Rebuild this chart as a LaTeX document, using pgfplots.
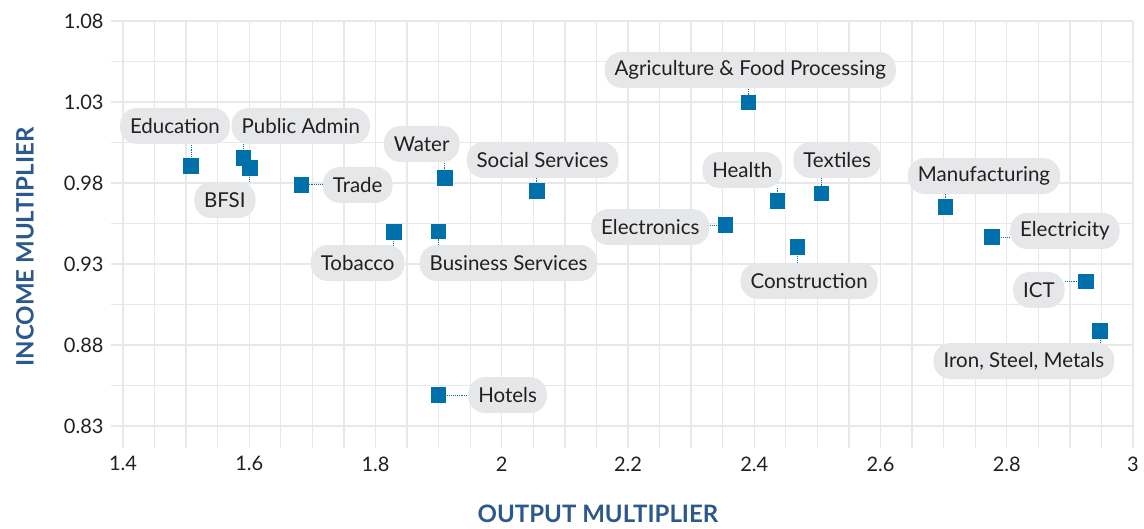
\documentclass[border=0pt]{standalone}
\usepackage{pgfplots}
\usepackage{pgfplotstable}
\pgfplotsset{compat=1.18}
\usepackage{fontspec}
\setmainfont{Lato}
\definecolor{ptblue}{RGB}{0,112,170}
\definecolor{lblue}{RGB}{44,88,140}
\definecolor{gridc}{RGB}{232,232,232}
\definecolor{boxc}{RGB}{230,231,232}
\definecolor{txt}{RGB}{35,31,32}

\pgfplotstableread{
x y
1.508 0.9905
1.591 0.9954
1.601 0.9893
1.683 0.9788
1.829 0.9498
1.8995 0.9500
1.910 0.9829
2.0556 0.9749
2.391 1.0298
2.3546 0.9539
2.437 0.9687
2.5065 0.9736
2.4685 0.9403
2.7027 0.9650
2.777 0.9465
2.9258 0.9193
2.948 0.8885
1.8995 0.8490
}\sectors

\begin{document}
\begin{tikzpicture}[x=1pt,y=1pt,
  lab/.style={fill=boxc, rounded corners=17pt, minimum height=36pt, inner xsep=10pt, text=txt, font=\fontsize{20.5}{24}\selectfont},
  conn/.style={draw=ptblue, densely dotted, line width=0.9pt}]
\path[use as bounding box] (0,0) rectangle (1144,528);
\begin{axis}[
  at={(111pt,80pt)}, anchor=south west,
  scale only axis, width=1022pt, height=427pt,
  xmin=1.381, xmax=3, ymin=0.8164, ymax=1.08,
  xtick={1.4,1.6,1.8,2,2.2,2.4,2.6,2.8,3},
  minor xtick={1.45,1.5,1.55,1.65,1.7,1.75,1.85,1.9,1.95,2.05,2.1,2.15,2.25,2.3,2.35,2.45,2.5,2.55,2.65,2.7,2.75,2.85,2.9,2.95},
  ytick={0.83,0.88,0.93,0.98,1.03,1.08},
  minor ytick={0.855,0.905,0.955,1.005,1.055},
  grid=both,
  major grid style={draw=gridc, line width=1.3pt},
  minor grid style={draw=gridc, line width=1.3pt},
  axis line style={draw=none}, tick style={draw=none},
  /pgf/number format/.cd, fixed, precision=2, assume math mode=true,
  /pgfplots/.cd,
  xticklabel style={font=\fontsize{20}{24}\selectfont, text=txt, yshift=-5pt},
  yticklabel style={font=\fontsize{20}{24}\selectfont, text=txt, xshift=-4pt},
  xlabel={OUTPUT MULTIPLIER},
  ylabel={INCOME MULTIPLIER},
  xlabel style={at={(axis description cs:0.4765,-0.1546)}, anchor=center, font=\fontsize{24}{28}\selectfont\bfseries, text=lblue},
  ylabel style={at={(axis description cs:-0.0841,0.4707)}, anchor=center, font=\fontsize{24}{28}\selectfont\bfseries, text=lblue},
  clip=false,
]
% point coordinates
\coordinate (pEdu) at (axis cs:1.508,0.9905);
\coordinate (pPub) at (axis cs:1.591,0.9954);
\coordinate (pBfsi) at (axis cs:1.601,0.9893);
\coordinate (pTrade) at (axis cs:1.683,0.9788);
\coordinate (pTob) at (axis cs:1.829,0.9498);
\coordinate (pBus) at (axis cs:1.8995,0.9500);
\coordinate (pWat) at (axis cs:1.910,0.9829);
\coordinate (pSoc) at (axis cs:2.0556,0.9749);
\coordinate (pAgr) at (axis cs:2.391,1.0298);
\coordinate (pElc) at (axis cs:2.3546,0.9539);
\coordinate (pHea) at (axis cs:2.437,0.9687);
\coordinate (pTex) at (axis cs:2.5065,0.9736);
\coordinate (pCon) at (axis cs:2.4685,0.9403);
\coordinate (pMan) at (axis cs:2.7027,0.9650);
\coordinate (pEly) at (axis cs:2.777,0.9465);
\coordinate (pIct) at (axis cs:2.9258,0.9193);
\coordinate (pIro) at (axis cs:2.948,0.8885);
\coordinate (pHot) at (axis cs:1.8995,0.8490);
% labels
\node[lab] (lEdu) at (axis cs:1.4823,1.0152) {Education};
\node[lab] (lPub) at (axis cs:1.6816,1.0152) {Public Admin};
\node[lab] (lBfsi) at (axis cs:1.5614,0.9695) {BFSI};
\node[lab] (lTrade) at (axis cs:1.7718,0.9788) {Trade};
\node[lab] (lTob) at (axis cs:1.7718,0.9306) {Tobacco};
\node[lab] (lBus) at (axis cs:2.0108,0.9306) {Business Services};
\node[lab] (lWat) at (axis cs:1.8731,1.0041) {Water};
\node[lab] (lSoc) at (axis cs:2.0646,0.9942) {Social Services};
\node[lab] (lAgr) at (axis cs:2.3937,1.0498) {Agriculture \& Food Processing};
\node[lab] (lElc) at (axis cs:2.2354,0.9528) {Electronics};
\node[lab] (lHea) at (axis cs:2.381,0.9880) {Health};
\node[lab] (lTex) at (axis cs:2.5313,0.9942) {Textiles};
\node[lab] (lCon) at (axis cs:2.487,0.9195) {Construction};
\node[lab] (lMan) at (axis cs:2.7639,0.9843) {Manufacturing};
\node[lab] (lEly) at (axis cs:2.8921,0.9504) {Electricity};
\node[lab] (lIct) at (axis cs:2.8509,0.9140) {ICT};
\node[lab] (lIro) at (axis cs:2.8272,0.8701) {Iron, Steel, Metals};
\node[lab] (lHot) at (axis cs:2.0092,0.8491) {Hotels};
% connectors
\draw[conn] ([yshift=7pt]pEdu) -- (pEdu |- lEdu.south);
\draw[conn] ([yshift=7pt]pPub) -- (pPub |- lPub.south);
\draw[conn] ([yshift=-7pt]pBfsi) -- (pBfsi |- lBfsi.north);
\draw[conn] ([xshift=7pt]pTrade) -- (lTrade.west |- pTrade);
\draw[conn] ([yshift=-7pt]pTob) -- (pTob |- lTob.north);
\draw[conn] ([yshift=-7pt]pBus) -- (pBus |- lBus.north);
\draw[conn] ([yshift=7pt]pWat) -- (pWat |- lWat.south);
\draw[conn] ([yshift=7pt]pSoc) -- (pSoc |- lSoc.south);
\draw[conn] ([yshift=7pt]pAgr) -- (pAgr |- lAgr.south);
\draw[conn] ([xshift=-7pt]pElc) -- (lElc.east |- pElc);
\draw[conn] ([yshift=7pt]pHea) -- (pHea |- lHea.south);
\draw[conn] ([yshift=7pt]pTex) -- (pTex |- lTex.south);
\draw[conn] ([yshift=-7pt]pCon) -- (pCon |- lCon.north);
\draw[conn] ([yshift=7pt]pMan) -- (pMan |- lMan.south);
\draw[conn] ([xshift=7pt]pEly) -- (lEly.west |- pEly);
\draw[conn] ([xshift=-7pt]pIct) -- (lIct.east |- pIct);
\draw[conn] ([yshift=-7pt]pIro) -- (pIro |- lIro.north);
\draw[conn] ([xshift=7pt]pHot) -- (lHot.west |- pHot);
% points
\addplot[only marks, color=ptblue, mark=square*, mark size=7.3pt, mark options={fill=ptblue, draw=ptblue, line width=0pt}] table[x=x, y=y] {\sectors};
\end{axis}
\end{tikzpicture}
\end{document}
